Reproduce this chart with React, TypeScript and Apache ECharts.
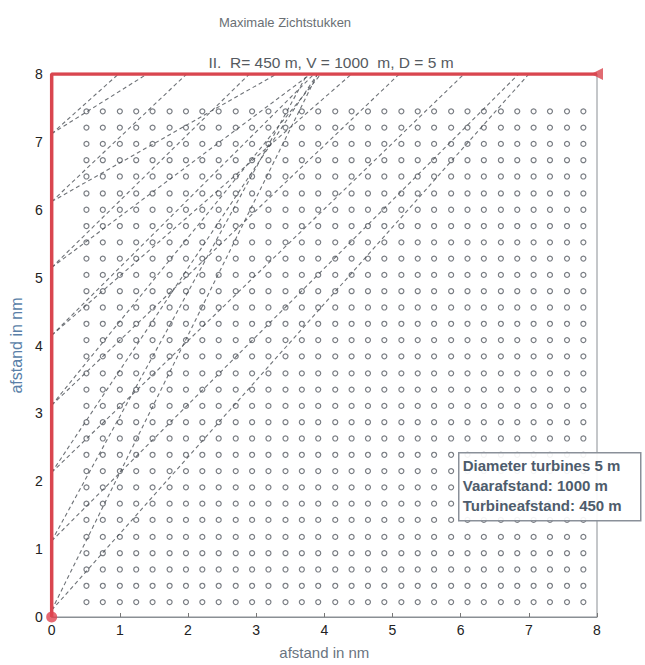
import React, { useEffect, useRef } from "react";
import * as echarts from "echarts";

const titleText = "Maximale Zichtstukken";
const subtitleText = "II.  R= 450 m, V = 1000  m, D = 5 m";
const axisName = "afstand in nm";
const xTicks = [0, 1, 2, 3, 4, 5, 6, 7, 8];
const yTicks = [0, 1, 2, 3, 4, 5, 6, 7, 8];

// turbine column / row positions (nm)
const turbineCols = [0.51, 0.75, 1.0, 1.24, 1.48, 1.73, 1.97, 2.21, 2.45, 2.7, 2.94, 3.18, 3.43, 3.67, 3.91, 4.16, 4.4, 4.64, 4.88, 5.13, 5.37, 5.61, 5.86, 6.1, 6.34, 6.59, 6.83, 7.07, 7.31, 7.56, 7.8];
const turbineRows = [0.22, 0.46, 0.7, 0.94, 1.18, 1.43, 1.67, 1.91, 2.15, 2.39, 2.63, 2.87, 3.11, 3.35, 3.59, 3.84, 4.08, 4.32, 4.56, 4.8, 5.04, 5.28, 5.52, 5.76, 6.0, 6.24, 6.49, 6.73, 6.97, 7.21, 7.45];

// sight lines: start on left axis (x=0, y=startY) to top edge (x=endX, y=8)
const sightStartY = [7.12, 7.12, 6.12, 6.12, 5.15, 5.15, 4.15, 4.15, 3.12, 3.12, 2.13, 2.13, 1.12, 1.12, 0.1, 0.1];
const sightEndX = [0.98, 1.4, 1.98, 3.3, 2.9, 3.8, 3.85, 4.4, 5.1, 3.95, 6.05, 3.9, 6.85, 3.75, 3.9, 7.0];

// boundary (red) polyline
const boundaryX = [0, 0, 8];
const boundaryY = [0, 8, 8];

const infoLines = ["Diameter turbines 5 m", "Vaarafstand: 1000 m", "Turbineafstand: 450 m"];

export default function App() {
  const ref = useRef<HTMLDivElement>(null);
  useEffect(() => {
    if (!ref.current) return;
    const chart = echarts.init(ref.current, undefined, { renderer: "svg" });
    const turbines: number[][] = [];
    turbineRows.forEach((y) => turbineCols.forEach((x) => turbines.push([x, y])));
    const sightSeries = sightStartY.map((sy, i) => ({
      type: "line",
      data: [[0, sy], [sightEndX[i], 8]],
      showSymbol: false,
      silent: true,
      z: 3,
      lineStyle: { color: "#4a4f55", width: 1.1, type: [4, 3], opacity: 0.8 },
    }));
    const font = "Liberation Sans, Arial, sans-serif";
    chart.setOption({
      animation: false,
      backgroundColor: "#fff",
      title: [
        { text: titleText, left: 280, top: 11, textAlign: "center", textStyle: { fontSize: 13, fontWeight: "normal", color: "#6a6f74", fontFamily: font } },
        { text: subtitleText, left: 326, top: 49, textAlign: "center", textStyle: { fontSize: 15.5, fontWeight: "normal", color: "#555a60", fontFamily: font } },
      ],
      grid: { left: 50, top: 74, width: 547, height: 546, show: true, borderColor: "#8a8f94", borderWidth: 1, backgroundColor: "transparent" },
      xAxis: {
        type: "value", min: 0, max: 8, interval: 1,
        name: axisName, nameLocation: "middle", nameGap: 28,
        nameTextStyle: { color: "#6a7480", fontSize: 15, fontFamily: font },
        axisLine: { show: true, lineStyle: { color: "#8a8f94" } },
        axisTick: { show: true, inside: true, length: 4, lineStyle: { color: "#777" } },
        axisLabel: { color: "#222", fontSize: 14, margin: 6, fontFamily: font, formatter: (v: number) => (xTicks.includes(v) ? String(v) : "") },
        splitLine: { show: false },
      },
      yAxis: {
        type: "value", min: 0, max: 8, interval: 1,
        name: axisName, nameLocation: "middle", nameGap: 26,
        nameTextStyle: { color: "#5a7fa8", fontSize: 16, fontFamily: font },
        axisLine: { show: true, lineStyle: { color: "#8a8f94" } },
        axisTick: { show: false },
        axisLabel: { color: "#222", fontSize: 14, margin: 9, fontFamily: font, formatter: (v: number) => (yTicks.includes(v) ? String(v) : "") },
        splitLine: { show: false },
      },
      series: [
        {
          type: "scatter",
          data: turbines,
          symbol: "circle",
          symbolSize: 5,
          silent: true,
          z: 2,
          itemStyle: { color: "#ffffff", borderColor: "#6a6f75", borderWidth: 1.2, opacity: 0.9 },
        },
        ...sightSeries,
        {
          type: "line",
          data: boundaryX.map((x, i) => [x, boundaryY[i]]),
          showSymbol: false,
          silent: true,
          z: 5,
          lineStyle: { color: "#d9464f", width: 3.5 },
        },
        {
          type: "scatter",
          data: [[0, 0]],
          symbol: "circle",
          symbolSize: 11,
          silent: true,
          z: 6,
          itemStyle: { color: "#e0444f" },
        },
        {
          type: "scatter",
          data: [[8, 8]],
          symbol: "triangle",
          symbolRotate: 90,
          symbolSize: 12,
          silent: true,
          z: 6,
          itemStyle: { color: "#d9464f" },
        },
      ],
      graphic: [
        {
          type: "group",
          left: 458,
          top: 452,
          z: 100,
          children: [
            { type: "rect", z: 100, shape: { x: 0, y: 0, width: 182, height: 68 }, style: { fill: "rgba(255,255,255,0.92)", stroke: "#8a9099", lineWidth: 1.5 } },
            ...infoLines.map((t, i) => ({
              type: "text",
              z: 101,
              x: 4,
              y: 5 + i * 20,
              style: { text: t, fill: "#4e5c6c", fontSize: 15, fontWeight: "bold", fontFamily: font },
            })),
          ],
        },
      ],
    });
    return () => chart.dispose();
  }, []);
  return <div ref={ref} style={{ position: "fixed", left: 0, top: 0, width: 645, height: 665 }} />;
}
